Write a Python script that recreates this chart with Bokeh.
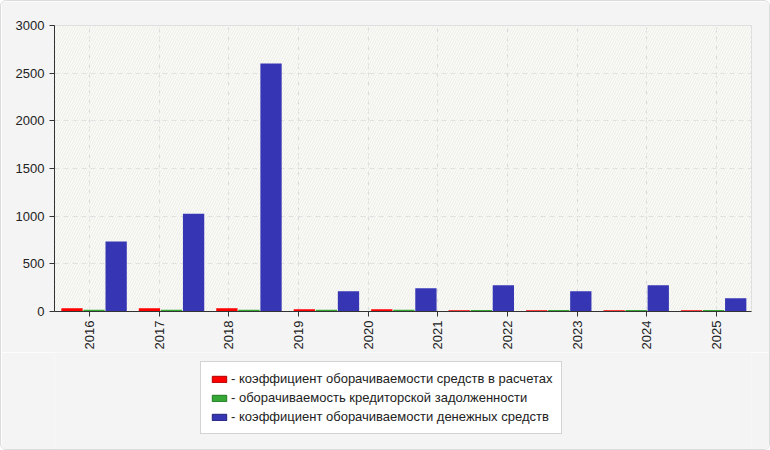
import math
from bokeh.plotting import figure
from bokeh.layouts import column
from bokeh.models import (ColumnDataSource, FixedTicker, Range1d, Legend, LegendItem,
                          BoxAnnotation)
from bokeh.embed import file_html
from bokeh.resources import INLINE

# ---- data ----
years = ["2016", "2017", "2018", "2019", "2020", "2021", "2022", "2023", "2024", "2025"]
groups = [0, 1, 2, 3, 4, 5, 6, 7, 8]
red_vals = [34, 34, 34, 24, 24, 14, 14, 14, 14]
green_vals = [18, 18, 18, 18, 18, 17, 17, 17, 17]
blue_vals = [734, 1026, 2602, 212, 243, 275, 212, 275, 139]
y_ticks = [0, 500, 1000, 1500, 2000, 2500, 3000]

names = ["- коэффициент оборачиваемости средств в расчетах",
         "- оборачиваемость кредиторской задолженности",
         "- коэффициент оборачиваемости денежных средств"]
colors = ["#ff0000", "#36a836", "#3636b4"]
edge_colors = ["#b00000", "#207a20", "#22227a"]

FONT = "Liberation Sans"
PANEL = "#f4f4f4"

p = figure(width=768, height=351, output_backend="svg", toolbar_location=None,
           x_range=Range1d(0, len(groups)), y_range=Range1d(0, 3000),
           min_border_left=53, min_border_right=18, min_border_top=24, min_border_bottom=40)

p.border_fill_color = PANEL
p.background_fill_color = "#fcfcf6"
p.outline_line_color = "#dddddd"

# hatched background
hatch = BoxAnnotation(fill_alpha=0, line_alpha=0, hatch_pattern="/", hatch_color="#ebebeb",
                      hatch_alpha=1.0, hatch_scale=5, hatch_weight=1, level="underlay")
p.add_layout(hatch)

src = ColumnDataSource(dict(
    xr=[g + 0.226 for g in groups],
    xg=[g + 0.511 for g in groups],
    xb=[g + 0.796 for g in groups],
    red=red_vals, green=green_vals, blue=blue_vals))

w = 0.275
p.vbar(x="xr", top="red", width=w, bottom=0, source=src, fill_color=colors[0], line_color=None)
p.vbar(x="xg", top="green", width=w, bottom=0, source=src, fill_color=colors[1], line_color=None)
p.vbar(x="xb", top="blue", width=w, bottom=0, source=src, fill_color=colors[2], line_color=None)

# axes
tick_pos = [(i + 0.5) * len(groups) / len(years) for i in range(len(years))]
p.xaxis.ticker = FixedTicker(ticks=tick_pos)
p.xaxis.major_label_overrides = {t: y for t, y in zip(tick_pos, years)}
p.xaxis.major_label_orientation = math.pi / 2
p.yaxis.ticker = FixedTicker(ticks=y_ticks)

for ax in (p.xaxis, p.yaxis):
    ax.axis_line_color = "#333333"
    ax.axis_line_width = 1
    ax.major_tick_line_color = "#333333"
    ax.major_tick_in = 0
    ax.major_tick_out = 5
    ax.minor_tick_line_color = None
    ax.major_label_text_font = FONT
    ax.major_label_text_font_size = "13px"
    ax.major_label_text_color = "#222222"
p.yaxis.major_label_standoff = 5
p.xaxis.major_label_standoff = 4

p.xgrid.ticker = FixedTicker(ticks=tick_pos)
for g in (p.xgrid, p.ygrid):
    g.grid_line_color = "#dadada"
    g.grid_line_dash = "5 4"
    g.grid_line_width = 1

# ---- legend panel ----
p2 = figure(width=768, height=97, output_backend="svg", toolbar_location=None,
            x_axis_location=None, y_axis_location=None,
            x_range=Range1d(0, 1), y_range=Range1d(0, 1), min_border=0)
p2.border_fill_color = PANEL
p2.background_fill_color = PANEL
p2.outline_line_color = None
p2.grid.visible = False

# dummy glyphs (outside the visible range) that only serve as legend swatches
dummy = ColumnDataSource(dict(x=[-10], top=[-10]))
lr = [p2.vbar(x="x", top="top", width=0.1, source=dummy, fill_color=c, line_color=e)
      for c, e in zip(colors, edge_colors)]

legend = Legend(items=[LegendItem(label=n, renderers=[r]) for n, r in zip(names, lr)],
                location=(146, 15), orientation="vertical")
legend.label_text_font = FONT
legend.label_text_font_size = "13px"
legend.label_text_color = "#222222"
legend.glyph_width = 18
legend.glyph_height = 8
legend.label_height = 14
legend.label_standoff = 3
legend.spacing = 4
legend.padding = 9
legend.margin = 0
legend.border_line_color = "#a8a8a8"
legend.background_fill_color = "#ffffff"
legend.background_fill_alpha = 1
p2.add_layout(legend, "center")

layout = column(p, p2, spacing=0)
layout.styles = {"border": "1px solid #dcdcdc", "border-radius": "6px", "overflow": "hidden"}
open("out.html", "w").write(file_html(layout, INLINE))
